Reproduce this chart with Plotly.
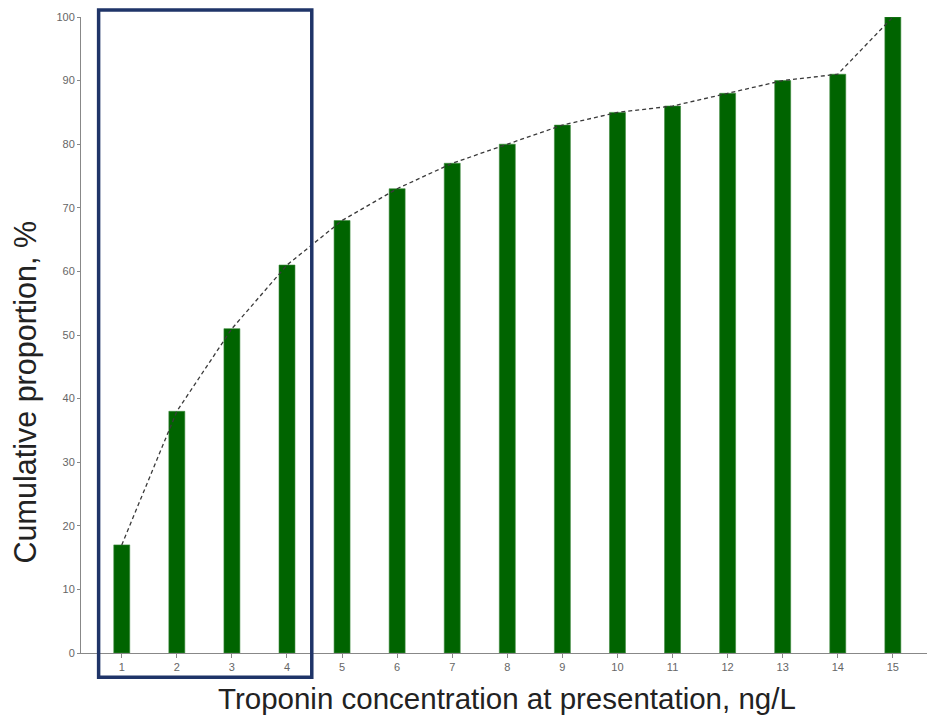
import plotly.graph_objects as go

# Troponin concentration (ng/L) and cumulative proportion of patients (%)
troponin = list(range(1, 16))
cumulative_pct = [17, 38, 51, 61, 68, 73, 77, 80, 83, 85, 86, 88, 90, 91, 100]
tick_labels = [str(t) for t in troponin]
y_ticks = [0, 10, 20, 30, 40, 50, 60, 70, 80, 90, 100]

fig = go.Figure()

fig.add_trace(go.Bar(
    x=troponin,
    y=cumulative_pct,
    width=0.29,
    marker=dict(color="#006400", line=dict(color="#3c8a3c", width=0.6)),
    hoverinfo="x+y",
))

fig.add_trace(go.Scatter(
    x=troponin,
    y=cumulative_pct,
    mode="lines",
    line=dict(color="#3a3a3a", width=1.3, dash="4px,3px"),
    hoverinfo="skip",
))

# Highlight box around the lowest four concentrations
fig.add_shape(
    type="rect",
    xref="x", yref="paper",
    x0=0.58, x1=4.45,
    y0=-0.038, y1=1.011,
    line=dict(color="#1f3468", width=3.5),
    fillcolor="rgba(0,0,0,0)",
    layer="above",
)

# Axis titles
fig.add_annotation(
    text="Troponin concentration at presentation, ng/L",
    xref="paper", yref="paper",
    x=0.503, y=-0.072,
    xanchor="center", yanchor="middle",
    showarrow=False,
    font=dict(size=29.5, color="#222222"),
)
fig.add_annotation(
    text="Cumulative proportion, %",
    xref="paper", yref="paper",
    x=-0.066, y=0.41,
    xanchor="center", yanchor="middle",
    textangle=-90,
    showarrow=False,
    font=dict(size=30.5, color="#222222"),
)

fig.update_layout(
    width=927, height=717,
    margin=dict(l=81, r=0, t=17, b=64),
    plot_bgcolor="white",
    paper_bgcolor="white",
    showlegend=False,
    font=dict(family="Liberation Sans, Arial, sans-serif", color="#555555"),
    xaxis=dict(
        range=[0.26, 15.62],
        tickmode="array",
        tickvals=troponin,
        ticktext=tick_labels,
        tickfont=dict(size=11, color="#666666"),
        ticks="outside", ticklen=4, tickcolor="#888888",
        showline=True, linecolor="#888888", linewidth=1,
        showgrid=False, zeroline=False,
    ),
    yaxis=dict(
        range=[0, 100],
        tickmode="array",
        tickvals=y_ticks,
        tickfont=dict(size=11, color="#666666"),
        ticks="outside", ticklen=3, tickcolor="#888888",
        showline=True, linecolor="#888888", linewidth=1,
        showgrid=False, zeroline=False,
    ),
)

fig.write_html("out.html")
